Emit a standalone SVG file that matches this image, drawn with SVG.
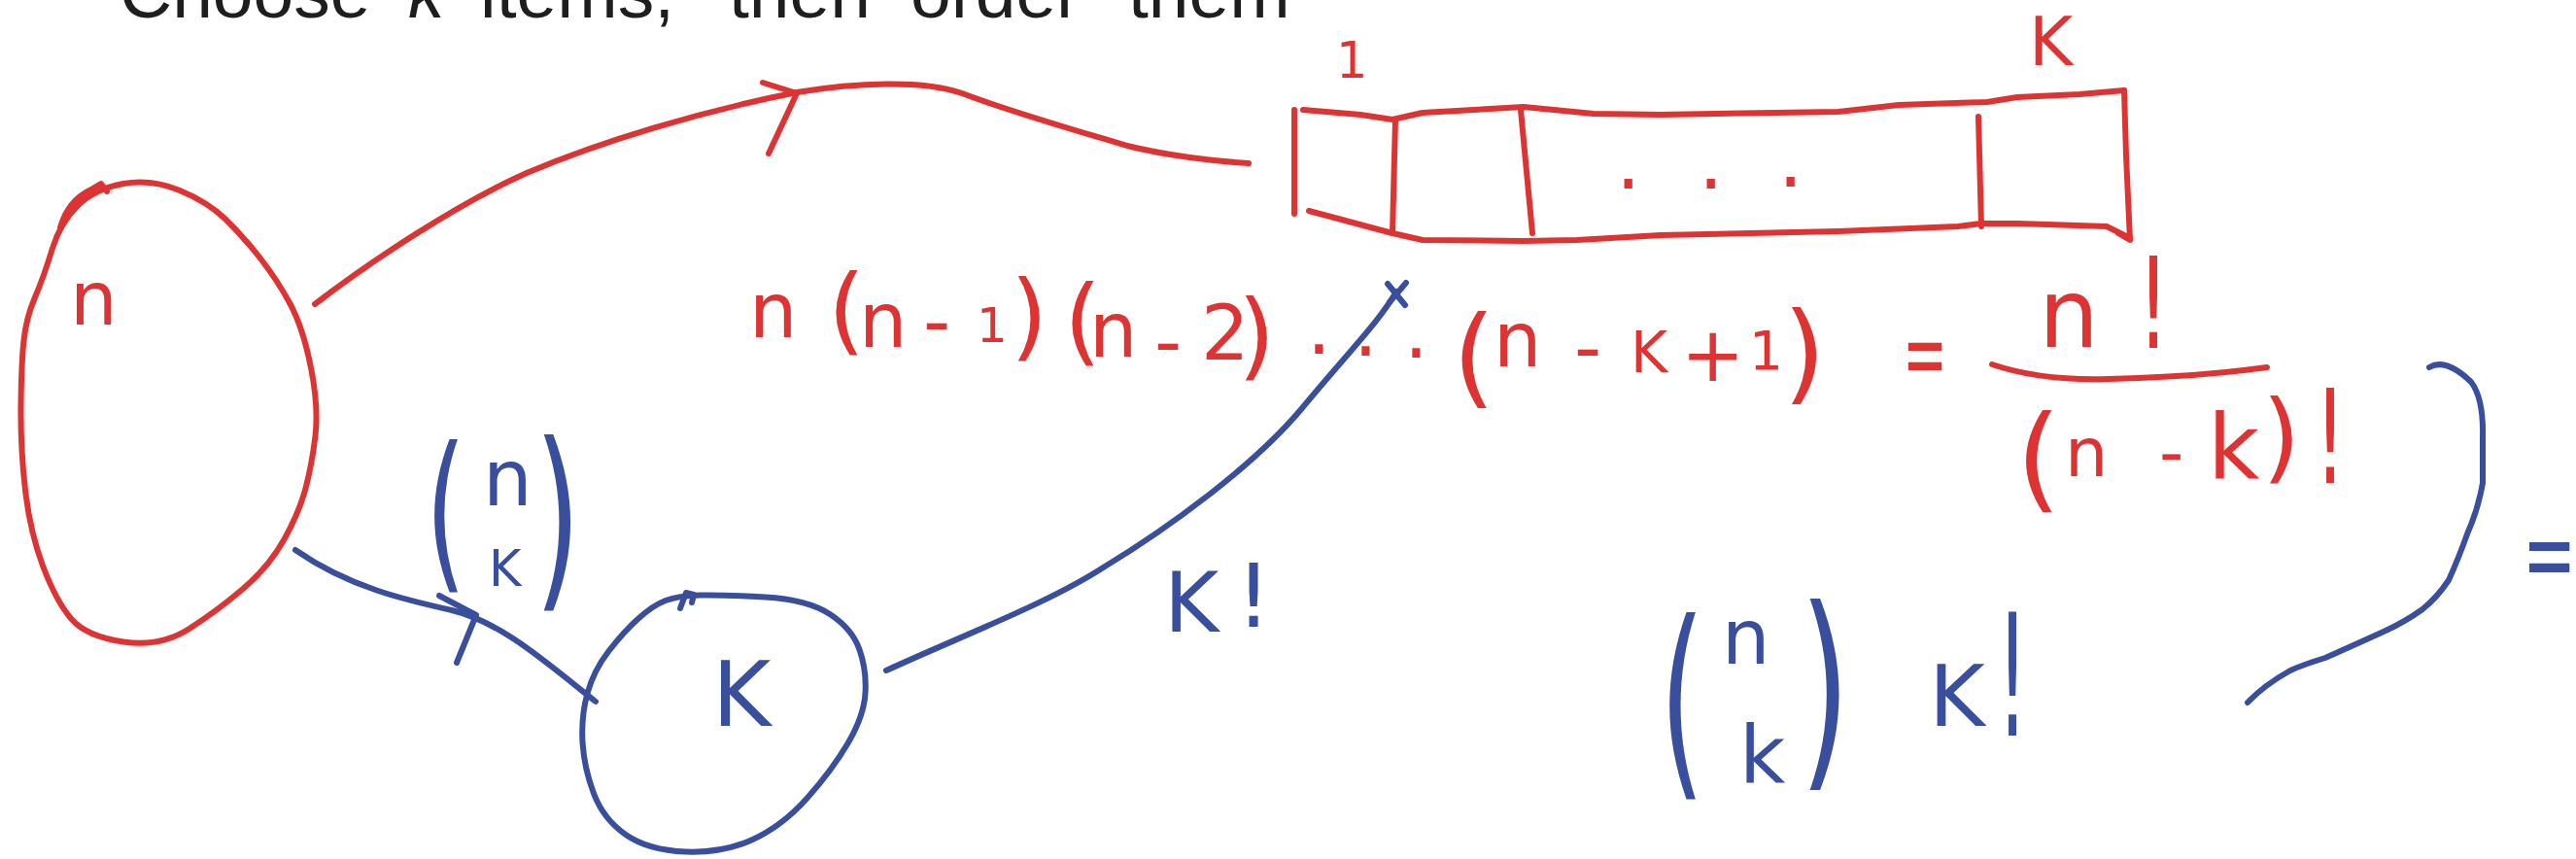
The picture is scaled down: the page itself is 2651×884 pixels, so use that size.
<svg xmlns="http://www.w3.org/2000/svg" width="2651" height="884" viewBox="0 0 2651 884">
<style>
.r{stroke:#dd3333;fill:none;stroke-width:6;stroke-linecap:round;stroke-linejoin:round}
.b{stroke:#3a4e9e;fill:none;stroke-width:6;stroke-linecap:round;stroke-linejoin:round}
.tr{fill:#dd3333;font-family:"DejaVu Sans",sans-serif}
.tb{fill:#3a4e9e;font-family:"DejaVu Sans",sans-serif}
.title{font-family:"Liberation Sans",Arial,sans-serif;font-size:75px;fill:#1e1e1e}
</style>
<rect width="2651" height="884" fill="#ffffff"/>

<g id="title">
<text class="title" y="18"><tspan x="123">Choose</tspan><tspan x="420" font-style="italic">k</tspan><tspan x="494">items,</tspan><tspan x="750">then</tspan><tspan x="937">order</tspan><tspan x="1161">them</tspan></text>
</g>

<g id="node-n">
<path class="r" d="M185,196 Q214,208 232,225.5 Q250,243 268,266 Q286,289 299,313.5 Q312,338 320,378.5 Q328,419 324.5,448.5 Q321,478 314.5,502.5 Q308,527 292.5,555 Q277,583 250,606 Q223,629 194,647.5 Q165,666 127,660.5 Q89,655 73.5,637 Q58,619 44.5,583.5 Q31,548 26,504.5 Q21,461 21.5,417 Q22,373 24.5,350 Q27,327 36,306 Q45,285 53.5,257 Q62,229 80,211.5 Q98,194 127,189 Q156,184 185,196 Z"/>
<path class="r" d="M62,234 Q70,207 92,196 L104,189 L110,197"/>
<text class="tr" x="72" y="334" font-size="77">n</text>
</g>

<g id="node-array">
<path class="r" d="M1332,113 L1332,220"/>
<path class="r" d="M1341,113 L1400,118 L1433,123 L1464,116 L1568,110 L1640,117 L1709,118 L1892,115 L1954,108 L2045,105 L2076,100 L2140,97 L2186,93"/>
<path class="r" d="M2186,93 L2188,160 L2192,247 L2180,240"/>
<path class="r" d="M1347,217 L1433,240 L1464,247 L1568,248 L1623,247 L1709,242 L1892,238 L2015,233 L2039,230 L2076,230 L2168,233 L2192,245"/>
<path class="r" d="M1436,123 L1433,240 M1565,113 L1577,240 M2036,120 L2039,233"/>
<text class="tr" font-size="80"><tspan x="1663" y="194">.</tspan><tspan x="1748" y="194">.</tspan><tspan x="1830" y="192">.</tspan></text>
<text class="tr" x="1375" y="80" font-size="51">1</text>
<text class="tr" x="2088" y="67" font-size="69">K</text>
</g>

<g id="node-k">
<path class="b" d="M721,612.5 Q744,612 787.5,614.5 Q831,617 854,632 Q877,647 884.5,668.5 Q892,690 890.5,713.5 Q889,737 872.5,765 Q856,793 830.5,821.5 Q805,850 774.5,864 Q744,878 705.5,876.5 Q667,875 644,859 Q621,843 611,816.5 Q601,790 599.5,763.5 Q598,737 604.5,713.5 Q611,690 626.5,670 Q642,650 657,636.5 Q672,623 685,618 Q698,613 721,612.5"/>
<path class="b" d="M700,626 L706,610 L714,612 L712,620"/>
<text class="tb" x="733" y="747" font-size="92">K</text>
</g>

<g id="connectors">
<path class="r" d="M324,313 C380,270 470,210 542,178 C620,145 720,115 820,95 C880,85 950,82 990,96 C1040,115 1110,135 1160,150 C1200,160 1250,166 1285,168"/>
<path class="r" d="M785,85 L820,96 L791,158"/>
<path class="b" d="M304,566 C360,605 420,618 465,628 C515,640 560,680 613,722"/>
<path class="b" d="M912,690 C1000,650 1080,620 1137,583 C1200,545 1290,480 1340,420 C1390,360 1420,330 1437,300"/>
<path class="b" d="M1428,292 L1446,314 M1447,291 L1430,311" stroke-width="8"/>
</g>

<g id="label-binom-edge">
<text class="tb" transform="translate(438,586) scale(0.6,1)" font-size="177">(</text>
<text class="tb" transform="translate(550,602) scale(0.6,1)" font-size="203">)</text>
<text class="tb" x="497" y="520" font-size="80">n</text>
<text class="tb" x="503" y="603" font-size="51">K</text>
<path class="b" d="M452,613 L490,633 L470,682"/>
</g>

<g id="label-kfact">
<text class="tb" x="1198" y="650" font-size="86">K</text>
<text class="tb" x="1272" y="645" font-size="90">!</text>
</g>

<g id="formula">
<text class="tr" font-size="78"><tspan x="771" y="347">n</tspan><tspan x="852" y="353" font-size="98">(</tspan><tspan x="884" y="357">n</tspan><tspan x="950" y="357">-</tspan><tspan x="1005" y="352" font-size="50">1</tspan><tspan x="1040" y="359" font-size="98">)</tspan><tspan x="1095" y="364" font-size="98">(</tspan><tspan x="1121" y="367">n</tspan><tspan x="1188" y="378">-</tspan><tspan x="1236" y="370">2</tspan><tspan x="1274" y="379" font-size="98">)</tspan><tspan x="1345" y="364">.</tspan><tspan x="1393" y="366">.</tspan><tspan x="1445" y="368">.</tspan><tspan x="1495" y="405" font-size="112">(</tspan><tspan x="1537" y="377">n</tspan><tspan x="1620" y="384">-</tspan><tspan x="1678" y="383" font-size="58">K</tspan><tspan x="1730" y="392">+</tspan><tspan x="1800" y="380" font-size="55">1</tspan><tspan x="1835" y="401" font-size="112">)</tspan></text>
<text class="tr" transform="translate(1958,398) scale(0.55,1)" font-size="100">=</text>
</g>

<g id="fraction">
<text class="tr" x="2098" y="357" font-size="98">n</text>
<text class="tr" transform="translate(2200,358) scale(0.8,1.3)" font-size="100">!</text>
<path class="r" d="M2050,375 Q2100,392 2170,390 Q2260,388 2333,378"/>
<text class="tr" x="2075" y="512" font-size="117">(</text>
<text class="tr" x="2125" y="490" font-size="70">n</text>
<text class="tr" x="2222" y="489" font-size="70">-</text>
<text class="tr" x="2272" y="493" font-size="92">k</text>
<text class="tr" x="2328" y="484" font-size="101">)</text>
<text class="tr" transform="translate(2382,497) scale(0.8,1.33)" font-size="100">!</text>
</g>

<g id="result">
<path class="b" d="M2500,378 Q2517,368 2543,393 Q2556,410 2555,450 L2555,497 Q2550,525 2540,547 Q2530,575 2520,597 Q2508,615 2493,627 Q2475,640 2453,650 Q2420,665 2393,677 Q2370,684 2357,690 Q2330,705 2313,723"/>
<text class="tb" transform="translate(2596,608) scale(0.6,1)" font-size="110">=</text>
<text class="tb" transform="translate(1708,794) scale(0.55,1)" font-size="216">(</text>
<text class="tb" transform="translate(1852,784) scale(0.6,1)" font-size="222">)</text>
<text class="tb" x="1772" y="683" font-size="78">n</text>
<text class="tb" x="1790" y="805" font-size="82">k</text>
<text class="tb" x="1985" y="747" font-size="88">K</text>
<text class="tb" transform="translate(2055,757) scale(0.8,1.75)" font-size="100">!</text>
</g>
</svg>
